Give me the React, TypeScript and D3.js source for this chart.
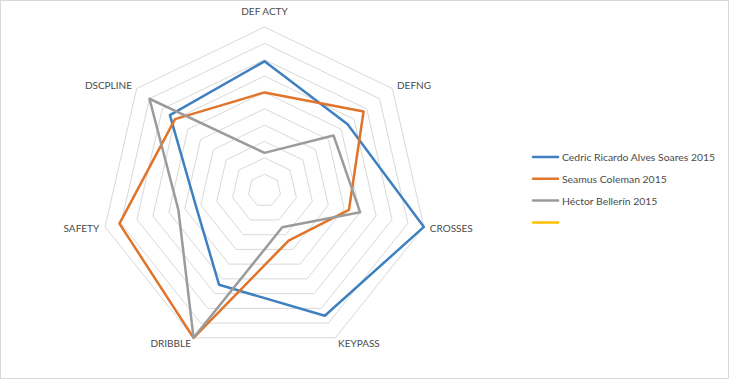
import React from "react";
import * as d3 from "d3";

const axes = ["DEF ACTY", "DEFNG", "CROSSES", "KEYPASS", "DRIBBLE", "SAFETY", "DSCPLINE"];
const seriesNames = ["Cedric Ricardo Alves Soares 2015", "Seamus Coleman 2015", "Héctor Bellerín 2015", ""];
const cedric = [7.9, 6.5, 10, 8.5, 6.4, 4.3, 7.4];
const seamus = [6.0, 7.75, 5.3, 3.4, 10, 9.1, 7.0];
const hector = [2.3, 5.4, 6.0, 2.5, 10, 5.4, 9.0];
const blank: number[] = [];
const seriesValues = [cedric, seamus, hector, blank];
const colors = ["#3F80C1", "#E0742A", "#9B9B9B", "#FFC000"];
const ringLevels = [1, 2, 3, 4, 5, 6, 7, 8, 9, 10];

export default function App() {
  const W = 730, H = 380;
  const cx = 264.5, cy = 190.5, R = 163.5;
  const r = d3.scaleLinear().domain([0, 10]).range([0, R]);
  const angle = d3.scaleLinear().domain([0, axes.length]).range([0, 2 * Math.PI]);
  const pt = (i: number, v: number): [number, number] => {
    const a = angle(i);
    return [cx + r(v) * Math.sin(a), cy - r(v) * Math.cos(a)];
  };
  const line = d3.line<[number, number]>().curve(d3.curveLinearClosed);
  const font = "Lato, 'Open Sans', sans-serif";
  const textColor = "#4a4a4a";

  return (
    <svg width={W} height={H} style={{ position: "fixed", left: 0, top: 0 }} fontFamily={font}>
      <rect x={0.5} y={0.5} width={W - 2} height={H - 2} fill="#fff" stroke="#d9d9d9" />
      {ringLevels.map((lv) => (
        <path key={lv} d={line(axes.map((_, i) => pt(i, lv))) || ""} fill="none" stroke="#d9d9d9" strokeWidth={1} />
      ))}
      {axes.map((name, i) => {
        const a = angle(i);
        const s = Math.sin(a);
        const [vx, vy] = pt(i, 10);
        if (Math.abs(s) < 0.1) {
          return (
            <text key={name} x={vx} y={vy - 16} textAnchor="middle" dominantBaseline="central" fontSize={10} fill={textColor}>
              {name}
            </text>
          );
        }
        const pad = 6;
        const x = vx + pad * s;
        const y = vy - pad * Math.cos(a);
        return (
          <text key={name} x={x} y={y} textAnchor={s > 0 ? "start" : "end"} dominantBaseline="central" fontSize={10} fill={textColor}>
            {name}
          </text>
        );
      })}
      {seriesValues.map((vals, si) =>
        vals.length ? (
          <path
            key={si}
            d={line(vals.map((v, i) => pt(i, v))) || ""}
            fill="none"
            stroke={colors[si]}
            strokeWidth={2.5}
            strokeLinejoin="round"
          />
        ) : null
      )}
      {seriesNames.map((name, si) => {
        const y = 157 + si * 21.8;
        return (
          <g key={si}>
            <line x1={533} x2={558} y1={y} y2={y} stroke={colors[si]} strokeWidth={2.5} strokeLinecap="round" />
            <text x={562} y={y} dominantBaseline="central" fontSize={10.4} fill={textColor}>
              {name}
            </text>
          </g>
        );
      })}
    </svg>
  );
}
